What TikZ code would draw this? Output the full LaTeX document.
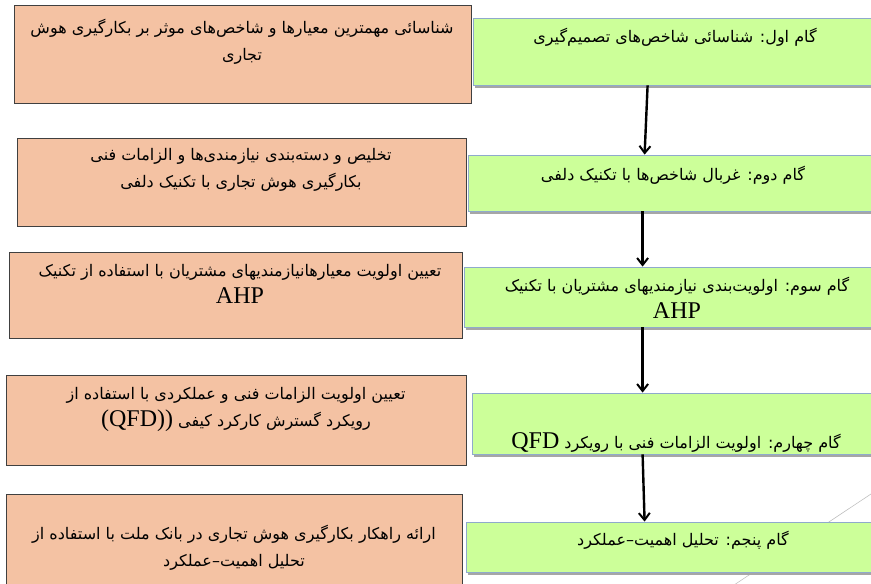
\documentclass[tikz,border=0pt]{standalone}
\usepackage{fontspec}
\usetikzlibrary{arrows.meta,shadows}
\TeXXeTstate=1
\newfontfamily\farsi[Script=Arabic]{DejaVu Sans}
\newfontfamily\latin{Liberation Serif}
\definecolor{stepgreen}{HTML}{CCFF99}
\definecolor{stepborder}{HTML}{8FAACC}
\definecolor{notefill}{HTML}{F4C2A3}
\newcommand{\lat}[1]{{\latin\fontsize{24}{27}\selectfont #1}}

\begin{document}
\begin{tikzpicture}[
    x=1pt, y=-1pt,
    noteBox/.style={draw=black!75, fill=notefill, line width=0.8pt, inner sep=0pt},
    stepBox/.style={draw=stepborder, fill=stepgreen, line width=0.8pt, inner sep=0pt,
        drop shadow={shadow xshift=2pt, shadow yshift=-3pt, fill=black!35, opacity=1}},
    faText/.style={font=\farsi\fontsize{16}{27}\selectfont, align=center, inner sep=0pt},
    flowArrow/.style={-{Straight Barb[length=7pt,width=11pt,line width=2pt]}, line width=2.4pt},
    every node/.style={
        text centered,
        }
        ]
    \useasboundingbox (0,0) rectangle (871,584);
    \clip (0,0) rectangle (871,584);

    \draw[black!25, line width=0.6pt] (880,488) -- (728,589);

    \node[noteBox, minimum width=457pt, minimum height=98pt] (note1) at (242.5,54) {};
    \node[noteBox, minimum width=449pt, minimum height=88pt] (note2) at (241.5,182) {};
    \node[noteBox, minimum width=453pt, minimum height=86pt] (note3) at (235.5,295) {};
    \node[noteBox, minimum width=460pt, minimum height=90pt] (note4) at (236,420) {};
    \node[noteBox, minimum width=456pt, minimum height=106pt] (note5) at (234,547) {};

    \node[stepBox, minimum width=427pt, minimum height=67pt] (step1) at (686.5,51.5) {};
    \node[stepBox, minimum width=432pt, minimum height=56pt] (step2) at (684,183) {};
    \node[stepBox, minimum width=436pt, minimum height=60pt] (step3) at (682,297) {};
    \node[stepBox, minimum width=428pt, minimum height=61pt] (step4) at (686,423.5) {};
    \node[stepBox, minimum width=434pt, minimum height=50pt] (step5) at (683,547) {};

    \node[faText] (noteText1) at (242,42) {\beginR شناسائی مهمترین معیارها و شاخص‌های موثر بر بکارگیری هوش\endR\\ \beginR تجاری\endR};
    \node[faText] (noteText2) at (241,170) {\beginR تخلیص و دسته‌بندی نیازمندی‌ها و الزامات فنی\endR\\ \beginR بکارگیری هوش تجاری با تکنیک دلفی\endR};
    \node[faText] (noteText3) at (240,284) {\beginR تعیین اولویت معیارهانیازمندیهای مشتریان با استفاده از تکنیک\endR\\ \lat{AHP}};
    \node[faText] (noteText4) at (236,409) {\beginR تعیین اولویت الزامات فنی و عملکردی با استفاده از\endR\\ \lat{(QFD))} \beginR رویکرد گسترش کارکرد کیفی\endR};
    \node[faText] (noteText5) at (234,548) {\beginR ارائه راهکار بکارگیری هوش تجاری در بانک ملت با استفاده از\endR\\ \beginR تحلیل اهمیت–عملکرد\endR};

    \node[faText] (stepText1) at (675,37) {\beginR گام اول: شناسائی شاخص‌های تصمیم‌گیری\endR};
    \node[faText] (stepText2) at (673,175) {\beginR گام دوم: غربال شاخص‌ها با تکنیک دلفی\endR};
    \node[faText] (stepText3) at (677,298) {\beginR گام سوم: اولویت‌بندی نیازمندیهای مشتریان با تکنیک\endR\\ \lat{AHP}};
    \node[faText] (stepText4) at (676,443) {\lat{QFD} \beginR گام چهارم: اولویت الزامات فنی با رویکرد\endR};
    \node[faText] (stepText5) at (683,540) {\beginR گام پنجم: تحلیل اهمیت–عملکرد\endR};

    \draw[flowArrow] ([xshift=175pt]step1.south west) -- ([xshift=177pt]step2.north west);
    \draw[flowArrow] ([xshift=175pt]step2.south west) -- ([xshift=179pt]step3.north west);
    \draw[flowArrow] ([xshift=179pt]step3.south west) -- ([xshift=171pt]step4.north west);
    \draw[flowArrow] ([xshift=171pt]step4.south west) -- ([xshift=179pt]step5.north west);
\end{tikzpicture}
\end{document}
